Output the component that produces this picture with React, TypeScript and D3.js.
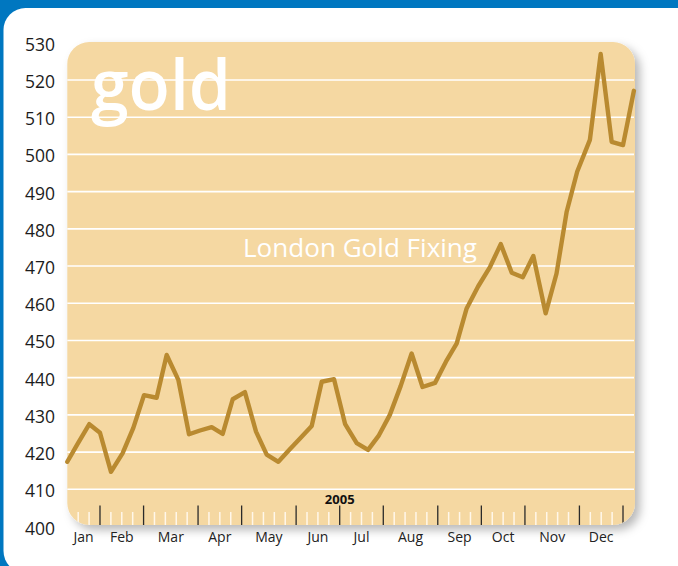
import React from "react";
import * as d3 from "d3";

// ---- data ----
const weeks = [0, 1, 2.02, 3, 4.01, 5.08, 6.06, 7.04, 8.2, 9.12, 10.19, 11.17, 12.18, 13.25, 14.26, 15.18, 16.3, 17.32, 18.3, 19.37, 20.4, 21.4, 22.43, 23.35, 24.48, 25.5, 26.56, 27.6, 28.6, 29.6, 30.6, 31.6, 32.6, 33.75, 34.75, 35.74, 36.65, 37.7, 38.8, 39.78, 40.79, 41.8, 42.77, 43.9, 44.9, 45.83, 46.8, 47.96, 48.95, 49.96, 51.0, 52.0];
const prices = [417.4, 422.5, 427.5, 425.2, 414.7, 419.7, 426.5, 435.3, 434.6, 446.1, 439.4, 424.8, 425.8, 426.7, 424.9, 434.2, 436.1, 425.5, 419.3, 417.4, 420.7, 423.8, 427.0, 438.9, 439.6, 427.5, 422.4, 420.6, 424.5, 430.0, 437.8, 446.5, 437.5, 438.6, 444.3, 449.2, 458.6, 464.5, 469.8, 475.9, 468.2, 467.0, 472.7, 457.3, 468.0, 484.6, 495.4, 503.9, 527.0, 503.4, 502.5, 517.1];
const yTickValues = [400, 410, 420, 430, 440, 450, 460, 470, 480, 490, 500, 510, 520, 530];
const gridValues = [410, 420, 430, 440, 450, 460, 470, 480, 490, 500, 510, 520];
const months = ["Jan", "Feb", "Mar", "Apr", "May", "Jun", "Jul", "Aug", "Sep", "Oct", "Nov", "Dec"];
const monthEndWeeks = [3, 7, 12, 16, 21, 25, 29, 34, 38, 42, 47, 51];
const weekTicks = [1, 2, 3, 4, 5, 6, 7, 8, 9, 10, 11, 12, 13, 14, 15, 16, 17, 18, 19, 20, 21, 22, 23, 24, 25, 26, 27, 28, 29, 30, 31, 32, 33, 34, 35, 36, 37, 38, 39, 40, 41, 42, 43, 44, 45, 46, 47, 48, 49, 50, 51];
const yearLabel = "2005";
const yearWeek = 25;
const title = "gold";
const subtitle = "London Gold Fixing";

const W = 678;
const H = 566;
const plot = { left: 67.3, right: 635, top: 42, bottom: 525 };

export default function App() {
  const x = d3.scaleLinear().domain([0, 52]).range([67.3, 633.9]);
  const y = d3.scaleLinear().domain([400, 530]).range([526.5, 42.8]);
  const data = weeks.map((w, i) => ({ w, p: prices[i] }));
  const line = d3
    .line<{ w: number; p: number }>()
    .x((d) => x(d.w))
    .y((d) => y(d.p));
  const bounds = [0, ...monthEndWeeks];
  const font = "'Open Sans', 'Noto Sans', sans-serif";

  return (
    <svg
      width={W}
      height={H}
      style={{ position: "absolute", left: 0, top: 0, display: "block" }}
    >
      <defs>
        <filter id="sh" x="-10%" y="-10%" width="130%" height="130%">
          <feDropShadow dx="5" dy="5" stdDeviation="5" floodColor="#000" floodOpacity="0.28" />
        </filter>
        <clipPath id="pc">
          <rect x={plot.left} y={plot.top} width={plot.right - plot.left} height={plot.bottom - plot.top} rx={22} />
        </clipPath>
      </defs>
      <rect x={0} y={0} width={W} height={H} fill="#0077c0" />
      <rect x={3.5} y={8} width={710} height={565} rx={22} fill="#ffffff" />
      <rect
        x={plot.left}
        y={plot.top}
        width={plot.right - plot.left}
        height={plot.bottom - plot.top}
        rx={22}
        fill="#f5d8a2"
        filter="url(#sh)"
      />
      {gridValues.map((v) => (
        <line key={v} x1={plot.left} x2={634} y1={y(v)} y2={y(v)} stroke="#ffffff" strokeWidth={1.6} />
      ))}
      <text
        x={91}
        y={110}
        fill="#ffffff"
        fontFamily={font}
        fontWeight={600}
        fontSize={71}
        textLength={140}
        lengthAdjust="spacingAndGlyphs"
      >
        {title}
      </text>
      <text
        x={243}
        y={257}
        fill="#ffffff"
        fontFamily={font}
        fontSize={26}
        textLength={234}
        lengthAdjust="spacingAndGlyphs"
      >
        {subtitle}
      </text>
      <g clipPath="url(#pc)">
        {weekTicks.map((w) => {
          const major = monthEndWeeks.includes(w);
          return (
            <line
              key={w}
              x1={x(w)}
              x2={x(w)}
              y1={major ? 505.5 : 512}
              y2={plot.bottom}
              stroke={major ? "#2a2a2a" : "#fff7ea"}
              strokeWidth={major ? 1.3 : 1.5}
            />
          );
        })}
      </g>
      <text
        x={x(yearWeek)}
        y={504}
        textAnchor="middle"
        fontFamily={font}
        fontWeight="bold"
        fontSize={13}
        fill="#111"
      >
        {yearLabel}
      </text>
      <path
        d={line(data) || ""}
        fill="none"
        stroke="#b98a30"
        strokeWidth={4.4}
        strokeLinejoin="round"
        strokeLinecap="round"
      />
      {yTickValues.map((v) => (
        <text
          key={v}
          x={55}
          y={y(v) + 8}
          textAnchor="end"
          fontFamily={font}
          fontSize={17.5}
          fill="#1c1c1c"
        >
          {v}
        </text>
      ))}
      {months.map((m, i) => (
        <text
          key={m}
          x={(x(bounds[i]) + x(bounds[i + 1])) / 2}
          y={542}
          textAnchor="middle"
          fontFamily={font}
          fontSize={14}
          fill="#222"
        >
          {m}
        </text>
      ))}
    </svg>
  );
}
